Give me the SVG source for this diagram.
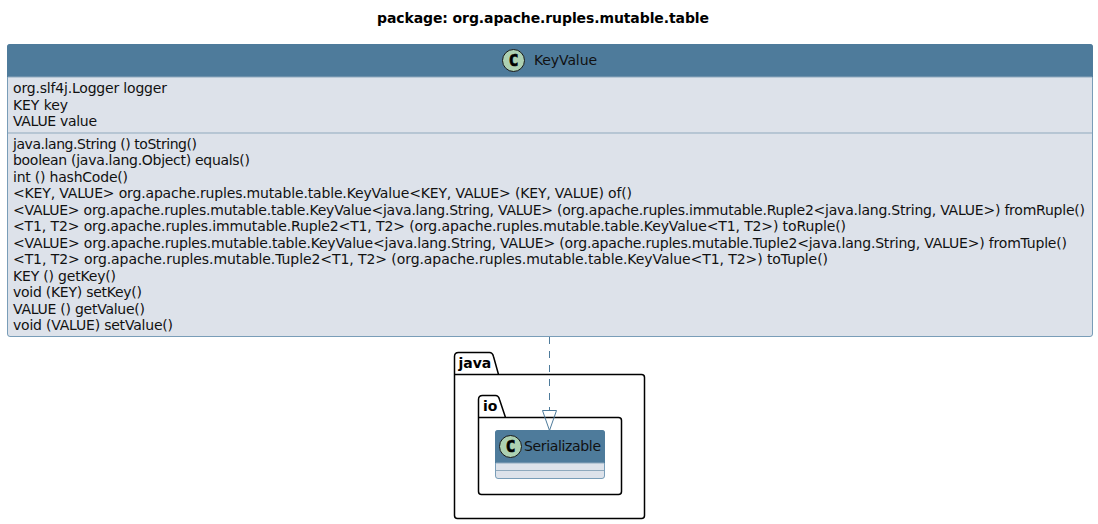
<svg xmlns="http://www.w3.org/2000/svg" width="1098" height="524" viewBox="0 0 1098 524">
<style>
text{font-family:"DejaVu Sans",sans-serif;fill:#000}
.m{font-size:14px;fill:#111}
.pk{fill:none;stroke:#000;stroke-width:1.5}
.pt{font-size:14px;font-weight:bold}
.box{fill:#DDE2EA;stroke:#5B88A8;stroke-width:.8}
.hd{fill:#4E7B9B}
.sep{stroke:#8FA9BD;stroke-width:1}
.spot{fill:#ADD1B2;stroke:#181818;stroke-width:1}
.c{font-size:16px;font-weight:bold;text-anchor:middle;font-family:"DejaVu Sans Mono",monospace;stroke:#000;stroke-width:.7}
</style>
<rect width="1098" height="524" fill="#fff"/>
<text id="title" x="377" y="23" textLength="332" lengthAdjust="spacing" style="font-size:14px;font-weight:bold">package: org.apache.ruples.mutable.table</text>
<g id="pkg-java">
<path class="pk" d="M454.500 374.500V356.500Q454.500 352.500 458.500 352.500H489.500Q492.500 352.500 493.500 356.500L498.500 374.500H641.500Q644.500 374.500 644.500 377.500V515.500Q644.500 518.500 641.500 518.500H457.500Q454.500 518.500 454.500 515.500ZM454.500 374.500H498.500"/>
<text class="pt" x="458.500" y="368">java</text>
</g>
<g id="pkg-io">
<path class="pk" d="M478.500 417.500V399.500Q478.500 395.500 482.500 395.500H495.500Q498.500 395.500 499.500 399.500L505.500 417.500H618.500Q621.500 417.500 621.500 420.500V491.500Q621.500 494.500 618.500 494.500H481.500Q478.500 494.500 478.500 491.500ZM478.500 417.500H505.500"/>
<text class="pt" x="483" y="411">io</text>
</g>
<g id="node-keyvalue">
<rect class="box" x="7.500" y="44.500" width="1085" height="292" rx="2.500"/>
<path class="hd" d="M7 77V47Q7 44 10 44H1090Q1093 44 1093 47V77Z"/>
<line class="sep" x1="8" y1="77" x2="1092" y2="77"/>
<line class="sep" x1="8" y1="133" x2="1092" y2="133"/>
<circle class="spot" cx="513.500" cy="60.500" r="11"/>
<text class="c" x="513.500" y="66">C</text>
<text class="m" x="534" y="65" textLength="63" lengthAdjust="spacing">KeyValue</text>
<text class="m" x="13" y="93" textLength="154" lengthAdjust="spacing">org.slf4j.Logger logger</text>
<text class="m" x="13" y="110" textLength="55" lengthAdjust="spacing">KEY key</text>
<text class="m" x="13" y="126" textLength="84" lengthAdjust="spacing">VALUE value</text>
<text class="m" x="13" y="149" textLength="184" lengthAdjust="spacing">java.lang.String () toString()</text>
<text class="m" x="13" y="165" textLength="237" lengthAdjust="spacing">boolean (java.lang.Object) equals()</text>
<text class="m" x="13" y="182" textLength="115" lengthAdjust="spacing">int () hashCode()</text>
<text class="m" x="13" y="198" textLength="619" lengthAdjust="spacing">&lt;KEY, VALUE&gt; org.apache.ruples.mutable.table.KeyValue&lt;KEY, VALUE&gt; (KEY, VALUE) of()</text>
<text class="m" x="13" y="215" textLength="1072" lengthAdjust="spacing">&lt;VALUE&gt; org.apache.ruples.mutable.table.KeyValue&lt;java.lang.String, VALUE&gt; (org.apache.ruples.immutable.Ruple2&lt;java.lang.String, VALUE&gt;) fromRuple()</text>
<text class="m" x="13" y="231" textLength="833" lengthAdjust="spacing">&lt;T1, T2&gt; org.apache.ruples.immutable.Ruple2&lt;T1, T2&gt; (org.apache.ruples.mutable.table.KeyValue&lt;T1, T2&gt;) toRuple()</text>
<text class="m" x="13" y="248" textLength="1054" lengthAdjust="spacing">&lt;VALUE&gt; org.apache.ruples.mutable.table.KeyValue&lt;java.lang.String, VALUE&gt; (org.apache.ruples.mutable.Tuple2&lt;java.lang.String, VALUE&gt;) fromTuple()</text>
<text class="m" x="13" y="264" textLength="815" lengthAdjust="spacing">&lt;T1, T2&gt; org.apache.ruples.mutable.Tuple2&lt;T1, T2&gt; (org.apache.ruples.mutable.table.KeyValue&lt;T1, T2&gt;) toTuple()</text>
<text class="m" x="13" y="281" textLength="103" lengthAdjust="spacing">KEY () getKey()</text>
<text class="m" x="13" y="297" textLength="129" lengthAdjust="spacing">void (KEY) setKey()</text>
<text class="m" x="13" y="314" textLength="132" lengthAdjust="spacing">VALUE () getValue()</text>
<text class="m" x="13" y="330" textLength="160" lengthAdjust="spacing">void (VALUE) setValue()</text>
</g>
<g id="node-serializable">
<rect class="box" x="495.500" y="430.500" width="109" height="48" rx="2.500"/>
<path class="hd" d="M495 463V433Q495 430 498 430H602Q605 430 605 433V463Z"/>
<line class="sep" x1="496" y1="463" x2="604" y2="463"/>
<line class="sep" x1="496" y1="470.500" x2="604" y2="470.500"/>
<circle class="spot" cx="510.500" cy="446.500" r="11"/>
<text class="c" x="510.500" y="452">C</text>
<text class="m" x="524" y="451" textLength="77" lengthAdjust="spacing">Serializable</text>
</g>
<g id="connectors">
<line x1="549.500" y1="337" x2="549.500" y2="411" stroke="#4E7B9B" stroke-width="1" stroke-dasharray="7,7"/>
<polygon points="542.500,410.500 556.500,410.500 549.500,430.500" fill="none" stroke="#4E7B9B" stroke-width="1"/>
</g>
</svg>
